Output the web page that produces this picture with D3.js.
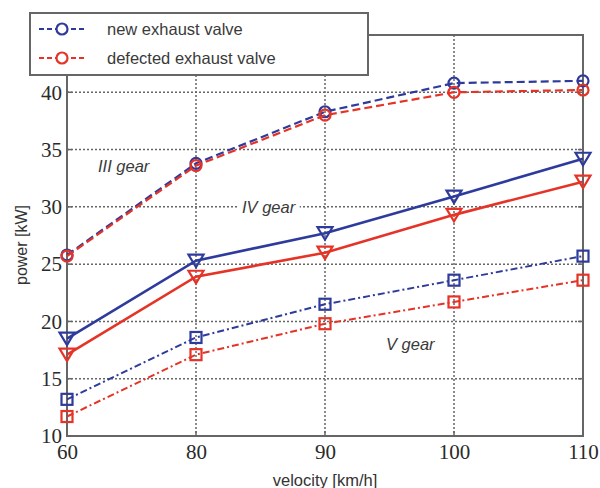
<!DOCTYPE html>
<html><head><meta charset="utf-8">
<script src="https://cdn.jsdelivr.net/npm/d3@7"></script>
<style>body{margin:0;background:#fff}</style>
</head><body>
<svg id="c" width="600" height="488"></svg>
<script>
const categories = [60, 80, 90, 100, 110];
const yTicks = [10, 15, 20, 25, 30, 35, 40];
const gear3New = [25.8, 33.8, 38.3, 40.8, 41.0];
const gear3Def = [25.7, 33.6, 38.0, 40.0, 40.2];
const gear4New = [18.5, 25.3, 27.7, 30.9, 34.2];
const gear4Def = [17.1, 23.9, 26.0, 29.3, 32.2];
const gear5New = [13.2, 18.6, 21.5, 23.6, 25.7];
const gear5Def = [11.7, 17.1, 19.8, 21.7, 23.6];
const legendLabels = ["new exhaust valve", "defected exhaust valve"];
const gearLabels = [{t:"III gear", x:60, y:33.0}, {t:"IV gear", x:90, y:29.5}, {t:"V gear", x:100, y:17.5}];

const BLUE = "#2e3b9c", RED = "#e53427";
const SANS = "'Liberation Sans', Arial, sans-serif";
const svg = d3.select("#c");
const L = 67, R = 583, T = 35, B = 436;
const x = d3.scalePoint().domain(categories).range([L, R]);
const y = d3.scaleLinear().domain([10, 45]).range([B, T]);

// grid
const g = svg.append("g");
g.selectAll(".hg").data(yTicks).join("line")
  .attr("x1", L).attr("x2", R).attr("y1", d => y(d)).attr("y2", d => y(d))
  .attr("stroke", "#666").attr("stroke-width", 1.5).attr("stroke-dasharray", "2,2");
g.selectAll(".vg").data(categories).join("line")
  .attr("x1", d => x(d)).attr("x2", d => x(d)).attr("y1", T).attr("y2", B)
  .attr("stroke", "#666").attr("stroke-width", 1.5).attr("stroke-dasharray", "2,2");

// frame
svg.append("rect").attr("x", L).attr("y", T).attr("width", R - L).attr("height", B - T)
  .attr("fill", "none").attr("stroke", "#666").attr("stroke-width", 2);

// axes
const xAxis = svg.append("g").attr("transform", `translate(0,${B})`)
  .call(d3.axisBottom(x).tickSize(0).tickPadding(8));
const yAxis = svg.append("g").attr("transform", `translate(${L},0)`)
  .call(d3.axisLeft(y).tickValues(yTicks).tickSize(0).tickPadding(5));
[xAxis, yAxis].forEach(a => {
  a.select(".domain").remove();
  a.selectAll("text").attr("font-family", "'Liberation Serif', 'DejaVu Serif', serif")
    .attr("font-size", 21).attr("fill", "#2a2a2a");
});
// small ticks
svg.selectAll(".yt").data(yTicks).join("line")
  .attr("x1", L).attr("x2", L + 5).attr("y1", d => y(d)).attr("y2", d => y(d))
  .attr("stroke", "#666").attr("stroke-width", 1.5);
svg.selectAll(".yt2").data(yTicks).join("line")
  .attr("x1", R - 5).attr("x2", R).attr("y1", d => y(d)).attr("y2", d => y(d))
  .attr("stroke", "#666").attr("stroke-width", 1.5);
svg.selectAll(".xt").data(categories).join("line")
  .attr("x1", d => x(d)).attr("x2", d => x(d)).attr("y1", B - 5).attr("y2", B)
  .attr("stroke", "#666").attr("stroke-width", 1.5);

// axis titles
svg.append("text").attr("x", (L + R) / 2).attr("y", 486).attr("text-anchor", "middle")
  .attr("font-family", SANS).attr("font-size", 16.5).attr("fill", "#333")
  .text("velocity [km/h]");
svg.append("text").attr("transform", `translate(27,245) rotate(-90)`).attr("text-anchor", "middle")
  .attr("font-family", SANS).attr("font-size", 16).attr("fill", "#333")
  .text("power [kW]");

// gear labels (with white background, drawn under the series)
const offs = {60: 31, 90: -83, 100: -68};
gearLabels.forEach(gl => {
  const t = svg.append("text").attr("x", x(gl.x) + offs[gl.x])
    .attr("y", y(gl.y)).attr("font-family", SANS)
    .attr("font-style", "italic").attr("font-size", 16.5).attr("fill", "#3a3a3a").text(gl.t);
  const bb = t.node().getBBox();
  svg.insert("rect", () => t.node()).attr("x", bb.x - 3).attr("y", bb.y + 1)
    .attr("width", bb.width + 6).attr("height", bb.height - 2).attr("fill", "#fff");
});

// series
const series = [
  {v: gear3New, c: BLUE, dash: "8,4", w: 2.2, m: "circle"},
  {v: gear3Def, c: RED, dash: "8,4", w: 2.2, m: "circle"},
  {v: gear4New, c: BLUE, dash: null, w: 2.6, m: "tri"},
  {v: gear4Def, c: RED, dash: null, w: 2.6, m: "tri"},
  {v: gear5New, c: BLUE, dash: "7,3,2,3", w: 2, m: "square"},
  {v: gear5Def, c: RED, dash: "7,3,2,3", w: 2, m: "square"}
];
const line = d3.line().x((d, i) => x(categories[i])).y(d => y(d));
function marker(sel, type, c) {
  if (type === "circle") sel.append("circle").attr("r", 5.5);
  else if (type === "tri") sel.append("path").attr("d", "M-7.5,-6 L7.5,-6 L0,6.5 Z");
  else sel.append("rect").attr("x", -5.5).attr("y", -5.5).attr("width", 11).attr("height", 11);
  sel.selectAll("*").attr("fill", "none").attr("stroke", c).attr("stroke-width", 2.2);
}
series.forEach(s => {
  svg.append("path").datum(s.v).attr("d", line).attr("fill", "none")
    .attr("stroke", s.c).attr("stroke-width", s.w).attr("stroke-dasharray", s.dash);
  s.v.forEach((d, i) => {
    const m = svg.append("g").attr("transform", `translate(${x(categories[i])},${y(d)})`);
    marker(m, s.m, s.c);
  });
});

// legend
const lg = svg.append("g");
lg.append("rect").attr("x", 30).attr("y", 13).attr("width", 338).attr("height", 62)
  .attr("fill", "#fff").attr("stroke", "#666").attr("stroke-width", 2);
[BLUE, RED].forEach((c, i) => {
  const yy = 29 + i * 29;
  lg.append("line").attr("x1", 39).attr("x2", 85).attr("y1", yy).attr("y2", yy)
    .attr("stroke", c).attr("stroke-width", 2.2).attr("stroke-dasharray", "5,3");
  const m = lg.append("g").attr("transform", `translate(62,${yy})`);
  marker(m, "circle", c);
  m.select("circle").attr("fill", "#fff");
  lg.append("text").attr("x", 107).attr("y", yy + 6).attr("font-family", SANS)
    .attr("font-size", 16.5).attr("fill", "#3a3a3a").text(legendLabels[i]);
});
</script>
</body></html>
